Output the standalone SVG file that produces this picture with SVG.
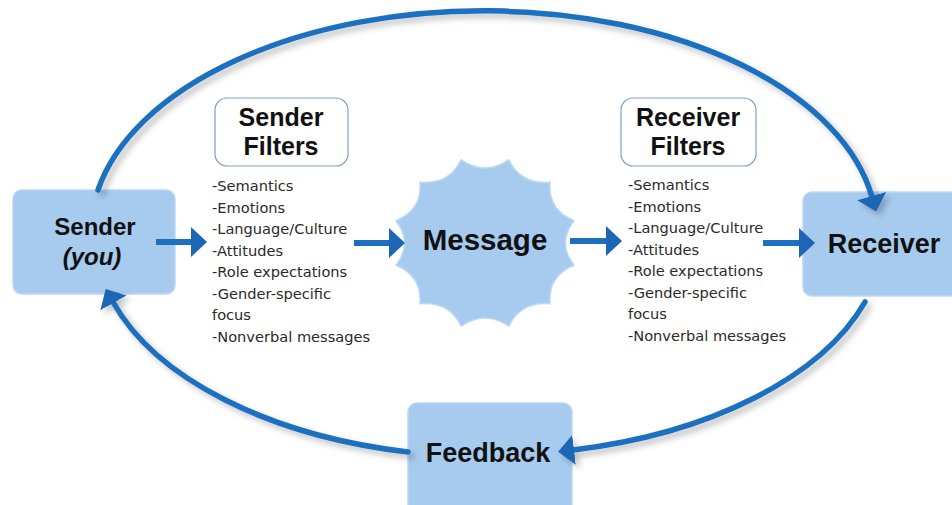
<svg xmlns="http://www.w3.org/2000/svg" width="952" height="505" viewBox="0 0 952 505">
<style>
.box{fill:#a7cbee;stroke:#bcd8f3;stroke-width:1.5}
.fbox{fill:#ffffff;stroke:#7f9fc2;stroke-width:1.2}
.lbl{font-family:"Liberation Sans",Arial,sans-serif;font-weight:bold;fill:#111;text-anchor:middle}
.lst{font-family:"DejaVu Sans","Liberation Sans",sans-serif;font-size:14.6px;fill:#2a2a2a}
.arc{fill:none;stroke:#1f6fc0;stroke-width:5.5;stroke-linecap:round}
.shaft{fill:none;stroke:#1f6fc0;stroke-width:6}
</style>
<defs>
<marker id="head" viewBox="0 0 16 30" refX="1" refY="15" markerWidth="16" markerHeight="30" markerUnits="userSpaceOnUse" orient="auto">
<path d="M0,0 L16,15 L0,30 Z" fill="#1c66b5"/>
</marker>
<filter id="sh" x="-10%" y="-10%" width="120%" height="130%">
<feDropShadow dx="4" dy="4" stdDeviation="3" flood-color="#000" flood-opacity="0.25"/>
</filter>
</defs>
<rect width="952" height="505" fill="#ffffff"/>

<g id="sender">
<rect class="box" x="13" y="190" width="162" height="104" rx="9"/>
<text class="lbl" x="95" y="235" font-size="24">Sender</text>
<text class="lbl" x="92" y="265" font-size="24" font-style="italic">(you)</text>
</g>

<g id="sender-filters">
<rect class="fbox" x="215" y="98" width="133" height="68" rx="12"/>
<text class="lbl" x="281" y="126" font-size="25">Sender</text>
<text class="lbl" x="281" y="155" font-size="25">Filters</text>
<text class="lst" x="212" y="191">-Semantics</text>
<text class="lst" x="212" y="212.5">-Emotions</text>
<text class="lst" x="212" y="234">-Language/Culture</text>
<text class="lst" x="212" y="255.5">-Attitudes</text>
<text class="lst" x="212" y="277">-Role expectations</text>
<text class="lst" x="212" y="298.5">-Gender-specific</text>
<text class="lst" x="212" y="320">focus</text>
<text class="lst" x="212" y="341.5">-Nonverbal messages</text>
</g>

<g id="message">
<path class="box" d="M573.9,220.7 Q557,243 573.9,265.3 Q547.4,276.5 550.1,303.8 Q521,301 508.8,326.1 Q485,310 461.2,326.1 Q449,301 419.9,303.8 Q422.6,276.5 396.1,265.3 Q413,243 396.1,220.7 Q422.6,209.5 419.9,182.2 Q449,185 461.2,159.9 Q485,176 508.8,159.9 Q521,185 550.1,182.2 Q547.4,209.5 573.9,220.7 Z"/>
<text class="lbl" x="485" y="250" font-size="29.5">Message</text>
</g>

<g id="receiver-filters">
<rect class="fbox" x="621" y="98" width="135" height="68" rx="12"/>
<text class="lbl" x="688" y="126" font-size="25">Receiver</text>
<text class="lbl" x="688" y="155" font-size="25">Filters</text>
<text class="lst" x="628" y="190">-Semantics</text>
<text class="lst" x="628" y="211.5">-Emotions</text>
<text class="lst" x="628" y="233">-Language/Culture</text>
<text class="lst" x="628" y="254.5">-Attitudes</text>
<text class="lst" x="628" y="276">-Role expectations</text>
<text class="lst" x="628" y="297.5">-Gender-specific</text>
<text class="lst" x="628" y="319">focus</text>
<text class="lst" x="628" y="340.5">-Nonverbal messages</text>
</g>

<g id="receiver">
<rect class="box" x="803" y="192" width="160" height="104" rx="9"/>
<text class="lbl" x="884" y="253" font-size="27">Receiver</text>
</g>

<g id="feedback">
<rect class="box" x="408" y="403" width="164" height="115" rx="9"/>
<text class="lbl" x="488" y="462" font-size="27">Feedback</text>
</g>

<g id="connectors">
<path class="arc" filter="url(#sh)" d="M98,190 A393,221 0 0 1 872,197" marker-end="url(#head)"/>
<path class="arc" filter="url(#sh)" d="M865,302 A393,221 0 0 1 573,450" marker-end="url(#head)"/>
<path class="arc" filter="url(#sh)" d="M408,452 A393,221 0 0 1 113,302" marker-end="url(#head)"/>
<path class="shaft" d="M156,242 L192,242" marker-end="url(#head)"/>
<path class="shaft" d="M354,243 L390,243" marker-end="url(#head)"/>
<path class="shaft" d="M570,241 L607,241" marker-end="url(#head)"/>
<path class="shaft" d="M763,243 L800,243" marker-end="url(#head)"/>
</g>
</svg>
